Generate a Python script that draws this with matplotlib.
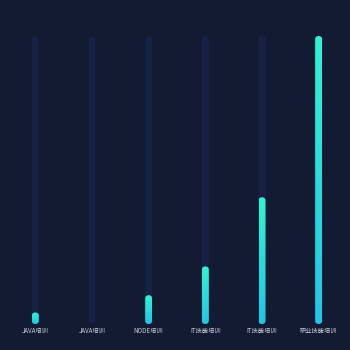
import numpy as np
import matplotlib
matplotlib.use("Agg")
import matplotlib.pyplot as plt
from matplotlib.patches import FancyBboxPatch
from matplotlib.colors import LinearSegmentedColormap

plt.rcParams['font.family'] = ['Noto Sans CJK SC', 'DejaVu Sans']

# 培训类别及数值
categories = ['JAVA培训', 'JAVA培训', 'NODE培训', 'IT技能培训', 'IT技能培训', '职业技能培训']
values = [4, 0, 10, 20, 44, 100]
max_value = 100

bg = '#131b33'
track_color = '#172045'
cmap = LinearSegmentedColormap.from_list('bar', ['#21c6e6', '#2ef5d2'])

W, H = 350, 350
fig = plt.figure(figsize=(W / 100, H / 100), dpi=100, facecolor=bg)
ax = fig.add_axes([7 / W, 26 / H, 340 / W, 288 / H])
ax.set_facecolor(bg)
ax.set_xlim(-0.5, len(categories) - 0.5)
ax.set_ylim(0, max_value)

# 像素到数据坐标的换算
px_x = len(categories) / 340
px_y = max_value / 288
bar_w = 7 * px_x
aspect = px_y / px_x


def capsule(x, top, color=None):
    p = FancyBboxPatch((x - bar_w / 2, 0), bar_w, top,
                       boxstyle=f"round,pad=0,rounding_size={bar_w / 2}",
                       mutation_aspect=aspect, linewidth=0,
                       facecolor=color if color else 'none')
    ax.add_patch(p)
    return p


grad = np.linspace(0, 1, 256).reshape(-1, 1)
for i, v in enumerate(values):
    capsule(i, max_value, track_color)
    if v <= 0:
        continue
    p = capsule(i, v)
    im = ax.imshow(grad, cmap=cmap, origin='lower', aspect='auto',
                   extent=(i - bar_w / 2, i + bar_w / 2, 0, v), zorder=3)
    im.set_clip_path(p)

ax.set_xlim(-0.5, len(categories) - 0.5)
ax.set_ylim(0, max_value)
ax.set_xticks(range(len(categories)))
ax.set_xticklabels(categories, fontsize=4.5, color='#c9cdd8')
ax.tick_params(axis='x', length=0, pad=2)
ax.set_yticks([])
for s in ax.spines.values():
    s.set_visible(False)

fig.savefig('out.png', dpi=100, facecolor=bg)
